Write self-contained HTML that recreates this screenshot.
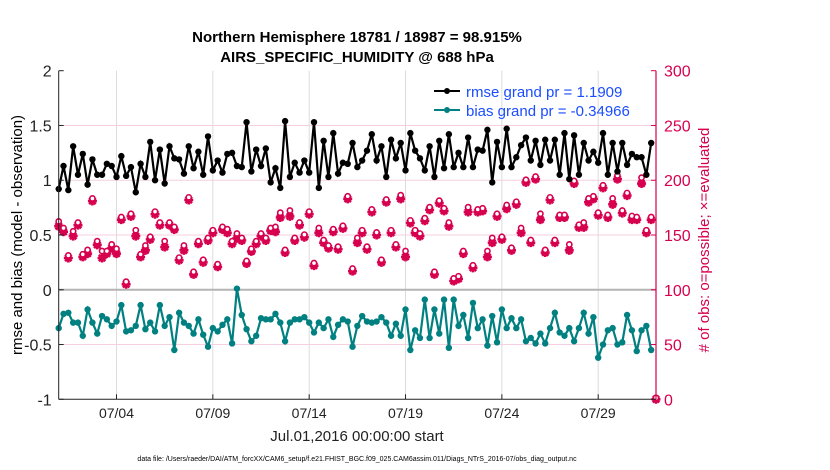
<!DOCTYPE html>
<html><head><meta charset="utf-8">
<style>
body{margin:0;background:#fff;}
svg{display:block;font-family:"Liberation Sans",Arial,sans-serif;}
</style></head>
<body>
<svg id="chart" width="830" height="470" viewBox="0 0 830 470" xmlns="http://www.w3.org/2000/svg">
<g font-weight="bold" font-size="15" text-anchor="middle" fill="#000">
<text x="357" y="42">Northern Hemisphere 18781 / 18987 = 98.915%</text>
<text x="357" y="62">AIRS_SPECIFIC_HUMIDITY @ 688 hPa</text>
</g>
<g id="grid"></g>
<g id="series"></g>
<g id="axes"></g>
<text transform="translate(22,235) rotate(-90)" text-anchor="middle" font-size="15" fill="#000">rmse and bias (model - observation)</text>
<text transform="translate(709,240) rotate(-90)" text-anchor="middle" font-size="15" fill="#d6004f"># of obs: o=possible; ×=evaluated</text>
<text x="357" y="441" text-anchor="middle" font-size="15" fill="#222">Jul.01,2016 00:00:00 start</text>
<text x="357" y="461" text-anchor="middle" font-size="7" fill="#000">data file: /Users/raeder/DAI/ATM_forcXX/CAM6_setup/f.e21.FHIST_BGC.f09_025.CAM6assim.011/Diags_NTrS_2016-07/obs_diag_output.nc</text>
<g>
<g>
<line x1="434" y1="91" x2="460" y2="91" stroke="#000" stroke-width="2"/><circle cx="447" cy="91" r="3" fill="#000"/>
<text x="466" y="97" font-size="15" fill="#1a4dff">rmse grand pr = 1.1909</text></g>
<g>
<line x1="434" y1="110" x2="460" y2="110" stroke="#008080" stroke-width="2"/><circle cx="447" cy="110" r="3" fill="#008080"/>
<text x="466" y="116" font-size="15" fill="#1a4dff">bias grand pr = -0.34966</text></g>
</g>
</svg>
<script>
const rmse=[0.92,1.13,0.91,1.31,1.05,1.24,0.96,1.19,1.05,1.05,1.15,1.13,1.03,1.22,1.04,1.12,0.89,1.15,1.03,1.35,1.00,1.28,0.97,1.31,1.20,1.19,1.06,1.31,1.11,1.26,1.05,1.40,1.09,1.18,1.07,1.24,1.25,1.13,1.12,1.53,1.08,1.28,1.13,1.29,0.98,1.11,0.93,1.54,1.03,1.16,1.07,1.18,1.07,1.53,0.93,1.36,1.03,1.43,1.06,1.16,1.15,1.34,1.12,
1.18,1.27,1.42,1.18,1.31,1.03,1.37,1.20,1.34,1.09,1.43,1.27,1.20,1.09,1.31,1.03,1.36,1.11,1.42,1.12,1.25,1.12,1.39,1.12,1.28,1.27,1.46,0.98,1.35,1.12,1.47,1.12,1.21,1.32,1.39,1.18,1.36,1.14,1.37,1.18,1.37,1.05,1.43,1.01,1.41,1.05,1.34,1.18,1.26,1.16,1.43,1.05,1.34,1.08,1.34,1.14,1.24,1.21,1.21,1.05,1.34];
const bias=[-0.35,-0.22,-0.21,-0.30,-0.30,-0.42,-0.18,-0.30,-0.40,-0.24,-0.27,-0.33,-0.29,-0.14,-0.38,-0.37,-0.33,-0.14,-0.36,-0.30,-0.38,-0.14,-0.33,-0.25,-0.55,-0.21,-0.30,-0.33,-0.40,-0.27,-0.41,-0.52,-0.35,-0.38,-0.32,-0.27,-0.49,0.01,-0.23,-0.36,-0.47,-0.42,-0.26,-0.27,-0.27,-0.22,-0.30,-0.47,-0.30,-0.27,-0.27,-0.25,-0.30,-0.39,-0.30,-0.35,-0.27,-0.43,-0.32,-0.27,-0.29,-0.52,-0.33,
-0.24,-0.29,-0.30,-0.29,-0.25,-0.30,-0.42,-0.31,-0.42,-0.18,-0.55,-0.37,-0.44,-0.09,-0.44,-0.18,-0.40,-0.09,-0.53,-0.09,-0.33,-0.23,-0.44,-0.12,-0.35,-0.27,-0.51,-0.24,-0.48,-0.18,-0.35,-0.26,-0.35,-0.27,-0.47,-0.44,-0.49,-0.40,-0.49,-0.35,-0.21,-0.39,-0.42,-0.35,-0.47,-0.35,-0.21,-0.40,-0.25,-0.62,-0.50,-0.37,-0.35,-0.50,-0.48,-0.23,-0.37,-0.56,-0.37,-0.33,-0.55];
const nEvaluated=[158,153,129,149,159,130,133,181,141,129,133,138,133,164,105,167,149,130,136,146,169,159,139,159,155,127,136,182,114,142,125,145,152,121,155,152,142,147,145,124,135,142,149,145,154,153,166,134,167,145,159,148,169,122,152,143,138,153,137,156,183,117,143,
152,137,171,150,125,180,152,139,183,130,161,152,149,163,173,114,179,172,158,108,110,133,171,120,171,172,130,143,167,146,174,136,178,152,198,143,201,164,134,182,143,166,166,136,197,157,157,180,183,168,193,166,178,201,170,186,164,164,197,152,164,0];
const nPossible=[161,155,130,152,160,131,135,182,143,134,134,140,136,165,106,168,153,131,139,147,170,160,143,160,156,128,139,183,115,143,126,146,153,122,156,154,143,150,146,125,136,143,150,146,155,156,169,135,171,146,160,149,170,123,155,144,139,154,138,157,184,118,146,
153,138,172,151,126,181,153,140,185,134,162,153,150,164,174,115,180,173,160,109,111,134,174,121,172,173,134,146,168,147,176,137,179,155,199,144,202,168,135,183,144,167,167,140,198,158,160,182,184,169,194,167,182,203,171,187,166,165,201,153,165,0];
const xTickIdx=[12,32,52,72,92,112];
const xTickLabels=["07/04","07/09","07/14","07/19","07/24","07/29"];
const yTicksL=[-1,-0.5,0,0.5,1,1.5,2];
const yTickLabelsL=["-1","-0.5","0","0.5","1","1.5","2"];
const yTicksR=[0,50,100,150,200,250,300];

const NS="http://www.w3.org/2000/svg";
const L=58.7,R=656,T=70.7,B=399.3;
const X=i=>L+i*(R-L)/124;
const YL=v=>B-(v+1)*(B-T)/3;
const YR=c=>B-c*(B-T)/300;
function mk(tag,attrs,parent){const e=document.createElementNS(NS,tag);for(const k in attrs)e.setAttribute(k,attrs[k]);parent.appendChild(e);return e;}
const grid=document.getElementById('grid'),ser=document.getElementById('series'),ax=document.getElementById('axes');
xTickIdx.forEach((t,k)=>{
 const g=mk('line',{x1:X(t),x2:X(t),y1:T,y2:B,stroke:'#dcdcdc','stroke-width':1},grid);
 
 
 const tx=mk('text',{x:X(t),y:418,'text-anchor':'middle','font-size':14,fill:'#222'},ax);
 tx.textContent=xTickLabels[k];
 
 
 mk('line',{x1:X(t),x2:X(t),y1:B,y2:B-5,stroke:'#222'},ax);
});
yTicksL.forEach((v,k)=>{
 if(v!==0&&v!==2&&v!==-1){const g=mk('line',{x1:L,x2:R,y1:YL(v),y2:YL(v),stroke:'#f6cfe0','stroke-width':1},grid);
 
 }
 const tx=mk('text',{x:L-7,y:YL(v)+6,'text-anchor':'end','font-size':16,fill:'#222'},ax);
 tx.textContent=yTickLabelsL[k];
 
 
 mk('line',{x1:L,x2:L+5,y1:YL(v),y2:YL(v),stroke:'#222'},ax);
});
const zl=mk('line',{x1:L,x2:R,y1:YL(0),y2:YL(0),stroke:'#b4b4b4','stroke-width':2},grid);


yTicksR.forEach(c=>{
 const tx=mk('text',{x:R+8,y:YR(c)+6,'font-size':16,fill:'#d6004f'},ax);
 tx.textContent=String(c);
 
 
 mk('line',{x1:R,x2:R-5,y1:YR(c),y2:YR(c),stroke:'#d6004f'},ax);
});
nEvaluated.forEach((c,i)=>{
 const x=X(i),y=YR(c);
 const g=mk('g',{},ser);
 
 
 mk('path',{d:`M${x-4.5},${y}H${x+4.5}M${x},${y-4.5}V${y+4.5}M${x-3.2},${y-3.2}L${x+3.2},${y+3.2}M${x-3.2},${y+3.2}L${x+3.2},${y-3.2}`,stroke:'#d6004f','stroke-width':2.6},g);
 mk('circle',{cx:x,cy:y,r:2.6,fill:'#d6004f'},g);
});
nPossible.forEach((c,i)=>{
 const m=mk('circle',{cx:X(i),cy:YR(c)-1.5,r:2.6,fill:'#fff',stroke:'#d6004f','stroke-width':1.6},ser);
 
 
});
function line(arr,color,name){
 const p=mk('polyline',{points:arr.map((v,i)=>X(i)+','+YL(v)).join(' '),fill:'none',stroke:color,'stroke-width':2.2},ser);
 
 
 arr.forEach((v,i)=>{const c=mk('circle',{cx:X(i),cy:YL(v),r:3.2,fill:color},ser);
 
 });
}
line(rmse,'#000','rmse');
line(bias,'#008080','bias');
mk('line',{x1:L,x2:L,y1:T,y2:B,stroke:'#222'},ax);
mk('line',{x1:L,x2:R,y1:B,y2:B,stroke:'#222'},ax);
mk('line',{x1:R,x2:R,y1:T,y2:B,stroke:'#d6004f','stroke-width':1.2},ax);
</script>
</body></html>
